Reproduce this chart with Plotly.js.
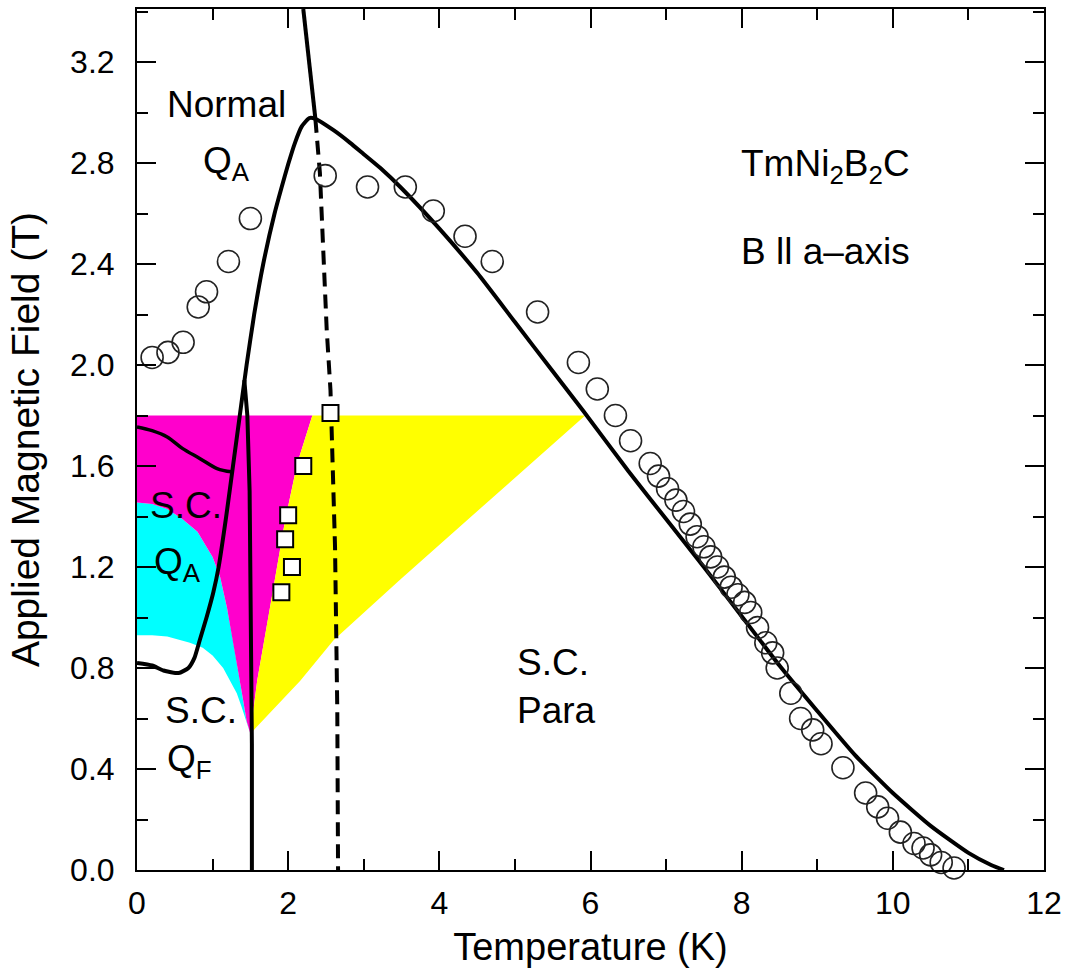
<!DOCTYPE html>
<html>
<head>
<meta charset="utf-8">
<script src="https://cdn.plot.ly/plotly-3.0.1.min.js"></script>
<style>
  html, body { margin: 0; padding: 0; background: #fff; }
  #chart { width: 1070px; height: 968px; }
</style>
</head>
<body>
<div id="chart"></div>
<script>
// ---- Data ----
// Upper critical field curve (solid)
const hc2T = [0, 0.2, 0.35, 0.55, 0.68, 0.76, 0.83, 0.92, 1.01, 1.08, 1.18, 1.27, 1.36, 1.45, 1.55, 1.67, 1.82, 1.91, 2.00, 2.09, 2.18, 2.28, 2.36, 2.60, 2.82, 3.0, 3.22, 3.5, 4.0, 4.5, 5.0, 5.5, 5.9, 6.5, 7.0, 7.5, 8.0, 8.5, 9.0, 9.5, 10.0, 10.5, 11.0, 11.3, 11.47];
const hc2B = [0.82, 0.81, 0.79, 0.78, 0.80, 0.84, 0.91, 1.00, 1.10, 1.20, 1.40, 1.60, 1.80, 2.00, 2.20, 2.40, 2.60, 2.70, 2.795, 2.88, 2.945, 2.978, 2.975, 2.93, 2.88, 2.835, 2.78, 2.70, 2.54, 2.365, 2.17, 1.975, 1.82, 1.58, 1.39, 1.20, 1.005, 0.81, 0.63, 0.455, 0.305, 0.175, 0.068, 0.02, 0.0];

// Upper boundary of the Normal Q_A region (solid, above the peak)
const upperT = [2.36, 2.29, 2.25, 2.20];
const upperB = [2.975, 3.18, 3.30, 3.41];

// Q_F boundary (solid, nearly vertical)
const qfT = [1.42, 1.46, 1.49, 1.51, 1.52, 1.52];
const qfB = [1.94, 1.80, 1.50, 1.00, 0.50, 0.0];

// Boundary inside S.C. Q_A region (solid)
const scqaT = [0, 0.2, 0.4, 0.6, 0.83, 1.06, 1.25];
const scqaB = [1.755, 1.74, 1.715, 1.67, 1.63, 1.59, 1.577];

// Dashed boundary
const dashT = [2.36, 2.42, 2.51, 2.56, 2.62, 2.65, 2.66];
const dashB = [2.975, 2.76, 2.14, 1.90, 1.28, 0.63, 0.0];

// Open circles
const circT = [0.20, 0.41, 0.61, 0.81, 0.92, 1.21, 1.50, 2.49, 3.05, 3.55, 3.92, 4.34, 4.70, 5.30, 5.84, 6.09, 6.33, 6.53, 6.79, 6.90, 7.02, 7.13, 7.23, 7.32, 7.41, 7.50, 7.59, 7.68, 7.77, 7.86, 7.95, 8.04, 8.12, 8.21, 8.32, 8.41, 8.47, 8.65, 8.78, 8.94, 9.05, 9.34, 9.64, 9.80, 9.93, 10.10, 10.28, 10.40, 10.50, 10.64, 10.81];
const circB = [2.03, 2.05, 2.09, 2.23, 2.29, 2.41, 2.58, 2.75, 2.705, 2.705, 2.61, 2.51, 2.41, 2.21, 2.01, 1.905, 1.80, 1.70, 1.61, 1.56, 1.51, 1.465, 1.42, 1.37, 1.32, 1.28, 1.24, 1.20, 1.16, 1.12, 1.09, 1.06, 1.02, 0.96, 0.90, 0.86, 0.80, 0.70, 0.60, 0.555, 0.50, 0.405, 0.305, 0.25, 0.205, 0.15, 0.105, 0.087, 0.06, 0.03, 0.008];

// Open squares
const sqT = [2.56, 2.20, 2.00, 1.96, 2.05, 1.91];
const sqB = [1.81, 1.60, 1.405, 1.31, 1.20, 1.10];

// Region boundaries
const yellowT = [2.32, 5.93, 3.48, 2.60, 2.16, 1.50, 1.59, 1.76, 1.96, 2.12, 2.32];
const yellowB = [1.80, 1.80, 1.15, 0.91, 0.75, 0.54, 0.75, 1.04, 1.385, 1.61, 1.80];
const magentaT = [0, 2.32, 2.12, 1.96, 1.76, 1.59, 1.50, 1.45, 1.40, 1.34, 1.27, 1.19, 1.10, 1.0, 0.8, 0.6, 0.4, 0.2, 0];
const magentaB = [1.80, 1.80, 1.61, 1.385, 1.04, 0.75, 0.54, 0.59, 0.68, 0.78, 0.91, 1.04, 1.16, 1.24, 1.34, 1.39, 1.43, 1.45, 1.455];
const cyanT = [0, 0.2, 0.4, 0.6, 0.8, 1.0, 1.10, 1.19, 1.27, 1.34, 1.40, 1.45, 1.50, 1.43, 1.38, 1.32, 1.25, 1.14, 1.0, 0.87, 0.7, 0.4, 0.2, 0];
const cyanB = [1.455, 1.45, 1.43, 1.39, 1.34, 1.24, 1.16, 1.04, 0.91, 0.78, 0.68, 0.59, 0.54, 0.61, 0.65, 0.70, 0.74, 0.80, 0.85, 0.88, 0.90, 0.925, 0.93, 0.93];

// Tick values
const xTicks = [0, 2, 4, 6, 8, 10, 12];
const yTicks = [0, 0.4, 0.8, 1.2, 1.6, 2.0, 2.4, 2.8, 3.2];
const yTickText = ['0.0', '0.4', '0.8', '1.2', '1.6', '2.0', '2.4', '2.8', '3.2'];

// Labels
const labels = [
  {text: 'Normal', x: 1.19, y: 3.03, anchor: 'center'},
  {text: 'Q<sub>A</sub>', x: 1.19, y: 2.80, anchor: 'center'},
  {text: 'S.C.', x: 0.65, y: 1.445, anchor: 'center'},
  {text: 'Q<sub>A</sub>', x: 0.53, y: 1.21, anchor: 'center'},
  {text: 'S.C.', x: 0.85, y: 0.63, anchor: 'center'},
  {text: 'Q<sub>F</sub>', x: 0.69, y: 0.43, anchor: 'center'},
  {text: 'S.C.', x: 5.0, y: 0.82, anchor: 'left'},
  {text: 'Para', x: 5.0, y: 0.63, anchor: 'left'},
  {text: 'TmNi<sub>2</sub>B<sub>2</sub>C', x: 7.97, y: 2.79, anchor: 'left'},
  {text: 'B ll a\u2013axis', x: 7.97, y: 2.45, anchor: 'left'}
];

// ---- Traces ----
const FONT = '"Liberation Sans", Arial, Helvetica, sans-serif';
const fillTrace = (x, y, c) => ({
  x, y, type: 'scatter', mode: 'lines', fill: 'toself', fillcolor: c,
  line: {width: 0, color: c}, hoverinfo: 'skip', showlegend: false
});
const lineTrace = (x, y, extra) => Object.assign({
  x, y, type: 'scatter', mode: 'lines',
  line: {color: '#000', width: 4}, hoverinfo: 'skip', showlegend: false
}, extra || {});

const traces = [
  fillTrace(cyanT, cyanB, '#00ffff'),
  fillTrace(magentaT, magentaB, '#ff00cc'),
  fillTrace(yellowT, yellowB, '#ffff00'),
  lineTrace(scqaT, scqaB, {line: {color: '#000', width: 3.5, shape: 'spline'}}),
  lineTrace(qfT, qfB, {line: {color: '#000', width: 4}}),
  lineTrace(hc2T, hc2B, {line: {color: '#000', width: 4, shape: 'spline', smoothing: 0.5}}),
  lineTrace(upperT, upperB, {line: {color: '#000', width: 4}}),
  lineTrace(dashT, dashB, {line: {color: '#000', width: 4, dash: '14px,8px'}}),
  {
    x: circT, y: circB, type: 'scatter', mode: 'markers', cliponaxis: false,
    marker: {symbol: 'circle-open', size: 22, color: '#222', line: {width: 1.6, color: '#222'}},
    hoverinfo: 'skip', showlegend: false
  },
  {
    x: sqT, y: sqB, type: 'scatter', mode: 'markers', cliponaxis: false,
    marker: {symbol: 'square', size: 16, color: '#fff', line: {width: 2, color: '#000'}},
    hoverinfo: 'skip', showlegend: false
  }
];

const annotations = labels.map(l => ({
  text: l.text, x: l.x, y: l.y, xref: 'x', yref: 'y', showarrow: false,
  xanchor: l.anchor, yanchor: 'middle',
  font: {family: FONT, size: 37, color: '#000'}
}));

const axisCommon = {
  showgrid: false, zeroline: false, showline: true, linecolor: '#000', linewidth: 2,
  mirror: 'ticks', ticks: 'inside', ticklen: 19, tickwidth: 2, tickcolor: '#000',
  tickfont: {family: FONT, size: 32, color: '#000'}
};

const layout = {
  width: 1070, height: 968,
  margin: {l: 137, r: 26, t: 9, b: 98},
  paper_bgcolor: '#fff', plot_bgcolor: '#fff',
  font: {family: FONT, color: '#000'},
  xaxis: Object.assign({}, axisCommon, {
    range: [0, 12], tickmode: 'array', tickvals: xTicks, ticktext: xTicks.map(String),
    ticklabelstandoff: 4,
    minor: {dtick: 1, tick0: 0, ticks: 'inside', ticklen: 11, tickwidth: 2, tickcolor: '#000'},
    title: {text: 'Temperature (K)', font: {family: FONT, size: 38, color: '#000'}, standoff: 16}
  }),
  yaxis: Object.assign({}, axisCommon, {
    range: [0, 3.41], tickmode: 'array', tickvals: yTicks, ticktext: yTickText,
    ticklabelstandoff: 14,
    minor: {dtick: 0.2, tick0: 0, ticks: 'inside', ticklen: 11, tickwidth: 2, tickcolor: '#000'},
    title: {text: 'Applied Magnetic Field (T)', font: {family: FONT, size: 39, color: '#000'}, standoff: 18}
  }),
  annotations: annotations,
  showlegend: false
};

Plotly.newPlot('chart', traces, layout, {displayModeBar: false, staticPlot: true});
</script>
</body>
</html>
